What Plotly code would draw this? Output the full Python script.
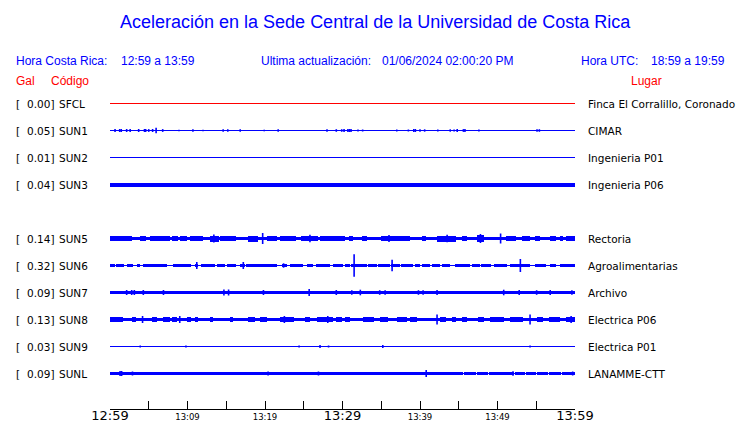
import plotly.graph_objects as go

# ---------------- data ----------------
CODES = ["SFCL", "SUN1", "SUN2", "SUN3", "SUN5", "SUN6", "SUN7", "SUN8", "SUN9", "SUNL"]
PEAK_GAL = [0.00, 0.05, 0.01, 0.04, 0.14, 0.32, 0.09, 0.13, 0.03, 0.09]
PLACES = ["Finca El Corralillo, Coronado", "CIMAR", "Ingenieria P01", "Ingenieria P06",
          "Rectoria", "Agroalimentarias", "Archivo", "Electrica P06", "Electrica P01",
          "LANAMME-CTT"]
ROW_SLOT = [0, 1, 2, 3, 5, 6, 7, 8, 9, 10]   # slot 4 is empty in the display

TICK_MINUTES = [0, 5, 10, 15, 20, 25, 30, 35, 40, 45, 50, 55, 60]
TICK_LABELS = ["12:59", "", "13:09", "", "13:19", "", "13:29", "", "13:39", "", "13:49", "", "13:59"]
MAJOR_LABELS = ["12:59", "13:29", "13:59"]

# Continuous noise level of each trace (relative counts, 0 = flat line)
NOISE_LEVEL = {"SFCL": 0, "SUN1": 0, "SUN2": 0, "SUN3": 2.0, "SUN5": 1.7, "SUN6": 0,
               "SUN7": 1.8, "SUN8": 1.5, "SUN9": 0, "SUNL": 0}

# Bursts: (start minute, end minute, half amplitude in relative counts)
SUN5_BURSTS = [(0, 2.8, 2.3), (3.9, 4.7, 2.3), (5.2, 7.7, 2.3), (8, 8.8, 2.3), (9, 9.9, 2.3),
               (10.3, 12, 2.3), (12.9, 14, 3.0), (14.2, 16.3, 2.3), (17.8, 19.1, 3.0),
               (20.2, 21.5, 2.3), (21.9, 24, 2.3), (24.7, 26.9, 2.8), (27.1, 30.3, 2.3),
               (30.8, 31.4, 2.3), (32.5, 33.1, 2.3), (35, 38.7, 2.8), (40.2, 40.8, 2.3),
               (42.2, 44.7, 3.0), (45.4, 46, 2.3), (47.3, 48.2, 3.5), (51.1, 52.4, 2.3),
               (53.1, 54.2, 2.3), (54.8, 55.5, 2.3), (56.8, 57.6, 2.3), (58.1, 58.5, 2.3),
               (58.9, 60, 2.3)]
SUN6_BURSTS = [(0, 0.65, 1.5), (0.77, 1.8, 1.5), (2.15, 3.0, 1.5), (3.44, 3.87, 1.5),
               (4.3, 7.3, 1.5), (8.17, 10.5, 1.5), (11.0, 11.4, 1.5), (11.8, 13.5, 1.5),
               (13.8, 14.8, 1.5), (15.05, 16.3, 1.5), (16.8, 17.4, 1.5), (17.6, 21.5, 1.5),
               (22.15, 22.8, 1.5), (23.2, 24.9, 1.5), (25.4, 26.2, 1.5), (26.6, 28.4, 1.5),
               (28.8, 30.1, 1.5), (30.3, 31.0, 1.5), (31.05, 33.1, 1.5), (33.3, 34.4, 1.5),
               (34.6, 36.1, 1.5), (36.3, 37.4, 1.5), (37.6, 39.1, 1.5), (39.4, 40.0, 1.5),
               (40.2, 41.3, 1.5), (41.5, 42.6, 1.5), (42.8, 43.9, 1.5), (44.5, 46.4, 1.5),
               (46.7, 47.7, 1.5), (47.9, 49.2, 1.5), (49.5, 51.2, 1.5), (51.6, 54.2, 1.5),
               (54.8, 56.3, 1.5), (56.8, 57.6, 1.5), (58.1, 60, 1.5)]
SUN8_BURSTS = [(0, 1.7, 2.4), (2.8, 3.4, 2.4), (5.4, 6.0, 2.6), (6.9, 7.7, 2.6), (8.0, 8.6, 2.4),
               (9.9, 10.5, 2.4), (11.0, 11.4, 2.4), (12.9, 13.3, 2.4), (15.5, 15.9, 2.4),
               (17.8, 18.7, 2.6), (19.4, 20.2, 2.4), (21.9, 23.7, 2.6), (25.2, 25.8, 2.4),
               (26.7, 28.8, 2.6), (29.2, 29.9, 2.4), (30.3, 31.0, 2.6), (32.7, 34.0, 2.4),
               (34.8, 35.9, 2.6), (37.0, 38.3, 2.4), (38.7, 39.6, 2.4), (42.6, 43.4, 2.4),
               (44.1, 44.7, 2.4), (45.4, 46.0, 2.4), (47.5, 48.2, 2.4), (49.0, 50.8, 2.4),
               (51.6, 53.3, 2.6), (55.05, 55.9, 2.4), (56.6, 58.1, 2.4), (58.9, 60, 2.8)]
SUNL_BURSTS = [(0, 45.6, 1.6), (45.7, 47.2, 1.6), (47.3, 48.8, 1.6), (48.9, 50.4, 1.6),
               (50.5, 52.1, 1.6), (52.2, 53.6, 1.6), (53.7, 55.0, 1.6), (55.1, 56.5, 1.6),
               (56.6, 58.2, 1.6), (58.3, 60, 1.6)]
SUN3_BURSTS = []
SUN7_BURSTS = []

# Spikes: (minute, half amplitude in relative counts)
SUN1_SPIKES = [(0.65, 1.4), (1.25, 1.5), (1.45, 1.5), (2.15, 1.5), (2.6, 1.4), (3.7, 1.5),
               (4.45, 1.5), (4.6, 1.5), (5.0, 1.4), (5.5, 1.5), (5.95, 2.7), (6.8, 1.4),
               (8.9, 0.8), (10.7, 1.2), (12.0, 0.8), (14.6, 1.3), (15.2, 1.2), (16.8, 1.2),
               (19.9, 0.8), (21.7, 1.2), (28.0, 1.2), (29.2, 1.3), (29.9, 1.3), (30.2, 1.4),
               (30.7, 1.5), (30.9, 1.5), (31.1, 1.5), (32.0, 1.0), (32.6, 1.0), (37.0, 1.0),
               (38.5, 1.0), (39.2, 1.5), (39.4, 1.5), (40.0, 1.3), (40.6, 1.2), (42.3, 1.0),
               (43.9, 1.2), (44.4, 1.0), (44.8, 1.4), (45.6, 1.4), (45.8, 1.4), (47.6, 1.0),
               (55.1, 1.3), (55.4, 1.3)]
SUN5_SPIKES = [(13.4, 4.0), (19.7, 5.5), (25.8, 3.8), (36.0, 3.5), (43.5, 3.8), (47.8, 4.5),
               (50.4, 5.0)]
SUN6_SPIKES = [(11.2, 3.5), (17.2, 3.5), (22.4, 2.2), (31.5, 11.3), (36.4, 5.8), (52.95, 6.5)]
SUN7_SPIKES = [(2.15, 2.5), (2.8, 2.5), (3.14, 2.5), (4.3, 2.5), (6.9, 2.5), (14.7, 3.0),
               (15.3, 3.0), (19.8, 2.5), (25.7, 3.5), (29.2, 2.5), (31.2, 2.3), (32.3, 2.8),
               (34.8, 2.3), (35.5, 2.3), (39.8, 2.3), (40.4, 2.3), (42.2, 2.6), (50.8, 2.8),
               (52.8, 2.5), (55.05, 2.3), (56.8, 2.5), (59.6, 2.3)]
SUN8_SPIKES = [(4.2, 3.5), (9.0, 3.5), (22.5, 3.5), (28.1, 3.5), (42.2, 5.0), (54.2, 5.0),
               (59.5, 3.5)]
SUN9_SPIKES = [(3.9, 1.0), (9.8, 1.0), (24.4, 1.0), (27.1, 1.5), (28.2, 1.0), (35.2, 1.5),
               (54.2, 1.0)]
SUNL_SPIKES = [(1.3, 2.5), (1.5, 2.5), (2.9, 2.0), (20.4, 2.0), (26.9, 2.0), (40.8, 3.5),
               (52.0, 2.2), (59.7, 2.0)]

BURSTS = {"SUN3": SUN3_BURSTS, "SUN5": SUN5_BURSTS, "SUN6": SUN6_BURSTS, "SUN7": SUN7_BURSTS,
          "SUN8": SUN8_BURSTS, "SUNL": SUNL_BURSTS}
SPIKES = {"SUN1": SUN1_SPIKES, "SUN5": SUN5_SPIKES, "SUN6": SUN6_SPIKES, "SUN7": SUN7_SPIKES,
          "SUN8": SUN8_SPIKES, "SUN9": SUN9_SPIKES, "SUNL": SUNL_SPIKES}

# ---------------- figure ----------------
W, H = 740, 423
BLUE = "#0000ff"
RED = "#ff0000"
AMP_SCALE = 1 / 27.0      # relative counts -> row units
T_END = 60

fig = go.Figure()

for code, slot in zip(CODES, ROW_SLOT):
    colour = RED if code == "SFCL" else BLUE
    fig.add_trace(go.Scatter(x=[0, T_END], y=[slot, slot], mode="lines",
                             line=dict(color=colour, width=1), hoverinfo="skip",
                             showlegend=False))
    segs = []
    if NOISE_LEVEL[code] > 0:
        segs.append((0, T_END, NOISE_LEVEL[code]))
    segs += BURSTS.get(code, [])
    if segs:
        fig.add_trace(go.Bar(
            x=[(a + b) / 2 for a, b, _ in segs],
            width=[b - a for a, b, _ in segs],
            base=[slot - amp * AMP_SCALE for _, _, amp in segs],
            y=[2 * amp * AMP_SCALE for _, _, amp in segs],
            marker=dict(color=colour, line=dict(width=0)),
            hoverinfo="skip", showlegend=False))
    sp = SPIKES.get(code, [])
    if sp:
        xs, ys = [], []
        for t, amp in sp:
            xs += [t, t, None]
            ys += [slot - amp * AMP_SCALE, slot + amp * AMP_SCALE, None]
        fig.add_trace(go.Scatter(x=xs, y=ys, mode="lines",
                                 line=dict(color=colour, width=1.6), hoverinfo="skip",
                                 showlegend=False))

tick_text = []
for lab in TICK_LABELS:
    if lab in MAJOR_LABELS:
        tick_text.append(f'<span style="font-size:13px">{lab}</span>')
    elif lab:
        tick_text.append(f'<span style="font-size:8.5px">{lab}</span>')
    else:
        tick_text.append("")

PLOT_BOTTOM_PX = 409
ROW0_PX, ROW_PX = 103.5, 27

fig.update_layout(
    width=W, height=H,
    margin=dict(l=0, r=0, t=0, b=0, pad=0, autoexpand=False),
    paper_bgcolor="white", plot_bgcolor="white",
    barmode="overlay", bargap=0,
    showlegend=False,
    font=dict(family="DejaVu Sans", color="black"),
    xaxis=dict(domain=[110 / W, 575 / W], range=[0, T_END], showgrid=False, zeroline=False,
               showline=True, linecolor="black", linewidth=1, automargin=False,
               ticks="inside", ticklen=8, tickwidth=1, tickcolor="black",
               tickmode="array", tickvals=TICK_MINUTES, ticktext=tick_text,
               tickfont=dict(family="DejaVu Sans", size=13, color="black"),
               ticklabelstandoff=-6, fixedrange=True),
    yaxis=dict(domain=[(H - PLOT_BOTTOM_PX) / H, 1], automargin=False,
               range=[(PLOT_BOTTOM_PX - ROW0_PX) / ROW_PX, -ROW0_PX / ROW_PX],
               visible=False, fixedrange=True),
)


def ann(text, px, py, size, color, family="Liberation Sans", anchor="left"):
    fig.add_annotation(text=text, x=px / W, y=1 - py / H, xref="paper", yref="paper",
                       xanchor=anchor, yanchor="middle", showarrow=False, borderpad=0,
                       font=dict(family=family, size=size, color=color))


ann("Aceleración en la Sede Central de la Universidad de Costa Rica", 375, 22, 18, BLUE,
    anchor="center")
ann("Hora Costa Rica:", 15, 61, 12, BLUE)
ann("12:59 a 13:59", 120, 61, 12, BLUE)
ann("Ultima actualización:", 260, 61, 12, BLUE)
ann("01/06/2024 02:00:20 PM", 381, 61, 12, BLUE)
ann("Hora UTC:", 580, 61, 12, BLUE)
ann("18:59 a 19:59", 650, 61, 12, BLUE)
ann("Gal", 15, 81, 12, RED)
ann("Código", 50, 81, 12, RED)
ann("Lugar", 630, 81, 12, RED)

for code, gal, place, slot in zip(CODES, PEAK_GAL, PLACES, ROW_SLOT):
    for txt, px, anchor in [("[", 15, "left"), (f"{gal:.2f}]", 55, "right"),
                            (code, 58, "left"), (place, 587, "left")]:
        fig.add_annotation(text=txt, x=px / W, y=slot, xref="paper", yref="y",
                           xanchor=anchor, yanchor="middle", showarrow=False, borderpad=0,
                           font=dict(family="DejaVu Sans", size=10.5, color="black"))

fig.write_html("out.html", config={"displayModeBar": False},
               post_script="document.body.style.margin='0';document.body.style.overflow='hidden';")
